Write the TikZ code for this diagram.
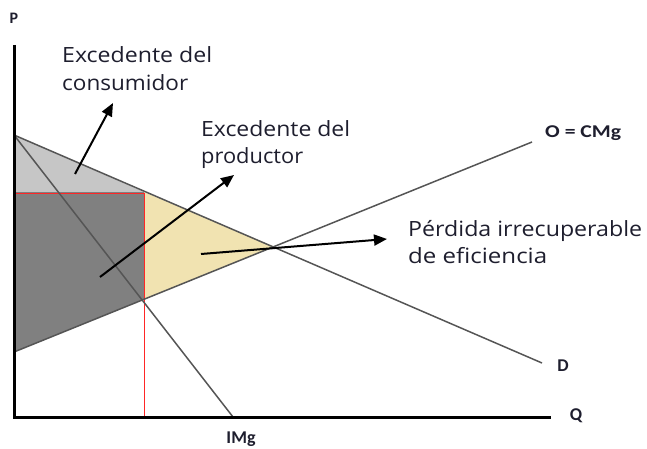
\documentclass[tikz,border=0pt]{standalone}
\usepackage{fontspec}
\usepackage{graphicx}
\setmainfont{Open Sans}
\newfontfamily\lblfont{Carlito}
\usetikzlibrary{arrows.meta}
\definecolor{lgray}{HTML}{C6C6C6}
\definecolor{dgray}{HTML}{808080}
\definecolor{yel}{HTML}{F1E3B1}
\definecolor{curve}{HTML}{555555}
\definecolor{txt}{HTML}{1E1E2E}
\newcommand{\fitw}[2]{\resizebox{#1pt}{\height}{#2}}
\begin{document}
\begin{tikzpicture}[x=1pt,y=-1pt,
  curveline/.style={draw=curve,line width=1.5pt},
  axisline/.style={draw=black,line width=3pt},
  redline/.style={draw=red!85!white,line width=1pt},
  pointer/.style={draw=black,line width=2pt,-{Triangle[width=11pt,length=13pt]}},
  biglabel/.style={font=\fontsize{21}{28}\selectfont,text=txt,inner sep=0pt,anchor=base west},
  axlabel/.style={font=\lblfont\bfseries\fontsize{18}{20}\selectfont,text=txt,inner sep=0pt}]
\useasboundingbox (0,0) rectangle (647,449);
% points
\coordinate (Dstart) at (14,135);
\coordinate (Dend) at (542,363);
\coordinate (Sstart) at (14,352);
\coordinate (Send) at (532,142);
\coordinate (Mend) at (233,417);
\coordinate (A) at (144,192);
\coordinate (B) at (144,299);
\coordinate (E) at (274,246.5);
\coordinate (P0) at (14,192);
\coordinate (Origin) at (14,417);
\coordinate (Ytop) at (14,45);
\coordinate (Xend) at (551,417);
\coordinate (Qm) at (144,417);
% fills
\fill[lgray] (Dstart) -- (A) -- (P0) -- cycle;
\fill[dgray] (P0) -- (A) -- (B) -- (Sstart) -- cycle;
\fill[yel] (A) -- (E) -- (B) -- cycle;
% red lines
\draw[redline] (14,193.5) -- (144,193.5) -- (Qm);
% curves
\draw[curveline] (Dstart) -- (Dend);
\draw[curveline] (Sstart) -- (Send);
\draw[curveline] (Dstart) -- (Mend);
% axes
\draw[axisline] (Ytop) -- (Origin) -- (Xend);
% axis labels
\node[axlabel,font=\lblfont\bfseries\fontsize{16}{18}\selectfont] (lP) at (14,18.5) {P};
\node[axlabel] (lQ) at (576,416) {Q};
\node[axlabel] (lIMg) at (241,439) {IMg};
\node[axlabel] (lD) at (563,366) {D};
\node[axlabel,anchor=west] (lO) at (545,133) {\fitw{76}{O = CMg}};
% text labels
\node[biglabel] (tC1) at (62,63) {\fitw{150}{Excedente del}};
\node[biglabel] (tC2) at (62,91) {\fitw{126}{consumidor}};
\node[biglabel] (tP1) at (201,137) {\fitw{149}{Excedente del}};
\node[biglabel] (tP2) at (201,164) {\fitw{102}{productor}};
\node[biglabel] (tL1) at (408,236) {\fitw{234}{Pérdida irrecuperable}};
\node[biglabel] (tL2) at (408,263) {\fitw{139}{de eficiencia}};
% arrows
\coordinate (c1) at (75,174);
\coordinate (c2) at (113,103);
\coordinate (p1) at (100,277);
\coordinate (p2) at (234,175);
\coordinate (l1) at (201,254);
\coordinate (l2) at (387,239);
\draw[pointer] (c1) -- (c2);
\draw[pointer] (p1) -- (p2);
\draw[pointer] (l1) -- (l2);
\end{tikzpicture}
\end{document}
